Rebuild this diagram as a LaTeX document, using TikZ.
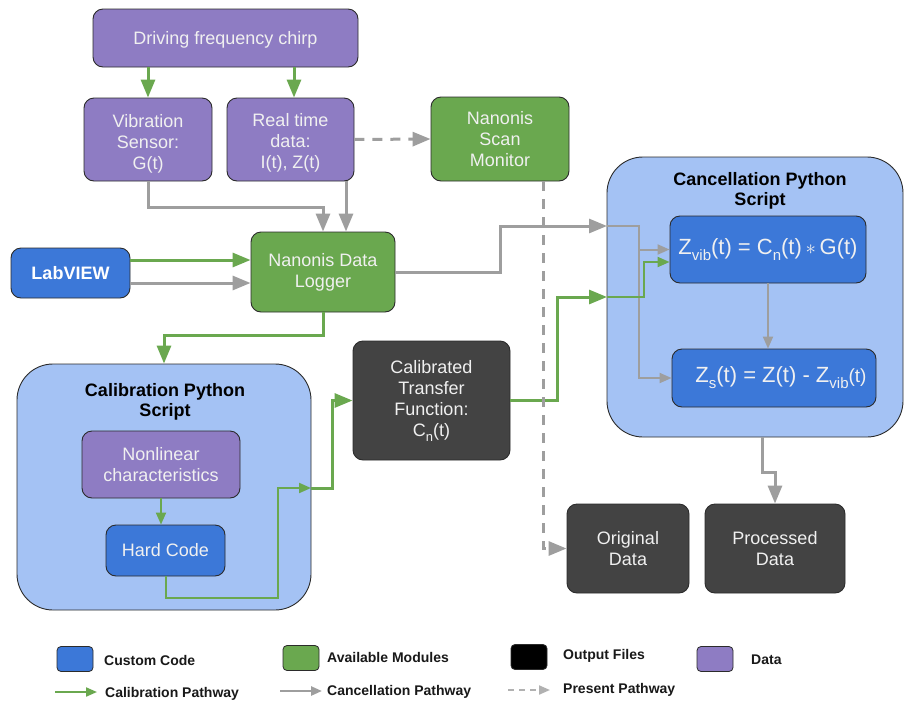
\documentclass[tikz,border=0pt]{standalone}
\usepackage{fontspec}
\setmainfont{Liberation Sans}
\usetikzlibrary{arrows.meta}
\definecolor{dpurple}{HTML}{8E7CC3}
\definecolor{dgreen}{HTML}{6AA84F}
\definecolor{dblue}{HTML}{3C78D8}
\definecolor{lblue}{HTML}{A4C2F4}
\definecolor{dgray}{HTML}{434343}
\definecolor{agray}{HTML}{9E9E9E}
\definecolor{bordc}{HTML}{2B2B2B}
\definecolor{txtc}{HTML}{F0F0F0}
\newcommand{\lsub}[3]{\raisebox{#1}{\fontsize{#2}{#2}\selectfont #3}}
\newcommand{\lowertxt}[2]{\raisebox{-#1}[\height][\depth]{\begin{tabular}{@{}c@{}}#2\end{tabular}}}
\tikzset{
  box/.style={draw=bordc, line width=0.9pt, rounded corners=10pt, align=center,
    text=txtc, font=\fontsize{18}{21}\selectfont, inner sep=0pt},
  datab/.style={box, fill=dpurple},
  modb/.style={box, fill=dgreen},
  codeb/.style={box, fill=dblue},
  outb/.style={box, fill=dgray},
  cont/.style={draw=bordc, fill=lblue, line width=0.9pt, rounded corners=36pt, inner sep=0pt},
  ttl/.style={font=\bfseries\fontsize{18}{20}\selectfont, align=center, text=black, inner sep=0pt},
  tip/.style={-{Triangle[length=18pt,width=14pt]}},
  smalltip/.style={-{Triangle[length=12pt,width=10pt]}},
  garr/.style={draw=dgreen, line width=3pt, tip},
  gyarr/.style={draw=agray, line width=3pt, tip},
  dasharr/.style={draw=agray, line width=3pt, dash pattern=on 10pt off 8pt, tip},
  gin/.style={draw=dgreen, line width=2pt},
  ginarr/.style={gin, smalltip},
  gyin/.style={draw=agray, line width=2pt},
  gyinarr/.style={gyin, smalltip},
  legsq/.style={draw=bordc, line width=0.8pt, rounded corners=4pt, minimum width=36pt, minimum height=25pt, inner sep=0pt},
  legtxt/.style={anchor=west, font=\bfseries\fontsize{14}{16}\selectfont, text=black!90, inner sep=0pt},
  legtip/.style={-{Triangle[length=11pt,width=9pt]}}
}
\begin{document}
\begin{tikzpicture}[x=1pt,y=-1pt]
\fill[white] (0,0) rectangle (906,702);
\useasboundingbox (0,0) rectangle (906,702);

% containers
\node[cont, minimum width=294pt, minimum height=246pt] (calib) at (164,487) {};
\node[cont, minimum width=296pt, minimum height=280pt] (cancel) at (755,297) {};
\node[ttl] (calibT) at (165,402) {Calibration Python\\Script};
\node[ttl] (cancelT) at (760,191) {Cancellation Python\\Script};

% boxes
\node[datab, minimum width=265pt, minimum height=58pt] (chirp) at (225.5,38) {\lowertxt{2pt}{Driving frequency chirp}};
\node[datab, minimum width=128pt, minimum height=83pt] (vib) at (148,139.5) {\lowertxt{5pt}{Vibration\\Sensor:\\G(t)}};
\node[datab, minimum width=127pt, minimum height=83pt] (rt) at (290.5,139.5) {\lowertxt{4pt}{Real time\\data:\\I(t), Z(t)}};
\node[modb, minimum width=138pt, minimum height=84pt] (scan) at (500,139) {Nanonis\\Scan\\Monitor};
\node[codeb, minimum width=119pt, minimum height=50pt, font=\bfseries\fontsize{18}{21}\selectfont, text=white] (labview) at (70.5,273) {LabVIEW};
\node[modb, minimum width=144pt, minimum height=80pt] (logger) at (323,272) {Nanonis Data\\Logger};
\node[datab, minimum width=158pt, minimum height=67pt] (nonlin) at (161,464.5) {Nonlinear\\characteristics};
\node[codeb, minimum width=119pt, minimum height=51pt] (hard) at (165.5,550.5) {Hard Code};
\node[outb, minimum width=157pt, minimum height=119pt] (transfer) at (431.5,400.5) {Calibrated\\Transfer\\Function:\\C\lsub{-5pt}{13}{n}(t)};
\node[codeb, minimum width=196pt, minimum height=67pt, font=\fontsize{22}{26}\selectfont] (zvib) at (768,249.5) {Z\lsub{-6pt}{15}{vib}(t) = C\lsub{-6pt}{15}{n}(t)\,$\ast$\,G(t)};
\node[codeb, minimum width=204pt, minimum height=58pt, font=\fontsize{22}{26}\selectfont] (zs) at (774,378) {\hspace*{14pt}Z\lsub{-6pt}{15}{s}(t) = Z(t) - Z\lsub{-6pt}{15}{vib}{\fontsize{19}{22}\selectfont(t)}};
\node[outb, minimum width=122pt, minimum height=89pt] (orig) at (628,548.5) {Original\\Data};
\node[outb, minimum width=140pt, minimum height=89pt] (proc) at (775,548.5) {Processed\\Data};

% coordinates at container edges
\coordinate (cin1) at (607,226);
\coordinate (cin2) at (607,297);
\coordinate (cout) at (311,488);

% connectors
\draw[garr] (vib.north |- chirp.south) -- (vib.north);
\draw[garr] ([xshift=3.5pt]rt.north |- chirp.south) -- ([xshift=3.5pt]rt.north);
\draw[dasharr] (rt.east) -- (scan.west);
\draw[gyarr] (vib.south) -- ++(0,26) -| (logger.north);
\draw[gyarr] ([xshift=55.5pt]rt.south) -- ([xshift=55.5pt]rt.south |- logger.north);
\draw[garr] ([yshift=13pt]labview.east) -- ([yshift=13pt]labview.east -| logger.west);
\draw[gyarr] ([yshift=-10pt]labview.east) -- ([yshift=-10pt]labview.east -| logger.west);

% into cancellation
\draw[gyinarr] (cin1) -- ++(32,0) |- (zs.west);
\draw[gyinarr] (639,249.5) -- (zvib.west);
\draw[ginarr] (cin2) -- ++(37,0) |- ([yshift=-12.5pt]zvib.west);
\draw[gyarr] (logger.east) -- ++(105,0) |- (cin1);
\draw[garr] (transfer.east) -- ++(47,0) |- (cin2);
\draw[gyinarr] (zvib.south) -- (zvib.south |- zs.north);
\draw[gyarr] ([xshift=7pt]cancel.south) -- ++(0,35) -| (proc.north);
\draw[dasharr] ([xshift=43pt]scan.south) |- (orig.west);

% calibration
\draw[garr] (logger.south) -- ++(0,23) -| (calib.north);
\draw[ginarr] (nonlin.south) -- (nonlin.south |- hard.north);
\draw[ginarr] (hard.south) -- ++(0,22) -| (278,488) -- (cout);
\draw[garr] (cout) -- ++(21,0) |- (transfer.west);

% legend
\node[legsq, fill=dblue] (l1) at (75,659) {};
\node[legtxt] (l1t) at (104,660) {Custom Code};
\node[legsq, fill=dgreen] (l2) at (301,658) {};
\node[legtxt] (l2t) at (327,657) {Available Modules};
\node[legsq, fill=black] (l3) at (529,657) {};
\node[legtxt] (l3t) at (563,656) {Output Files};
\node[legsq, fill=dpurple] (l4) at (715,659) {};
\node[legtxt] (l4t) at (751,660) {Data};

\coordinate (a1s) at (55,692); \coordinate (a1e) at (97,692);
\coordinate (a2s) at (280,691); \coordinate (a2e) at (322,691);
\coordinate (a3s) at (508,690); \coordinate (a3e) at (550,690);
\draw[draw=dgreen, line width=2pt, legtip] (a1s) -- (a1e);
\draw[draw=agray, line width=2.5pt, legtip] (a2s) -- (a2e);
\draw[draw=agray!80, line width=2pt, dash pattern=on 6pt off 5pt, legtip] (a3s) -- (a3e);
\node[legtxt] (a1t) at (105,694) {Calibration Pathway};
\node[legtxt] (a2t) at (327,692) {Cancellation Pathway};
\node[legtxt] (a3t) at (563,690) {Present Pathway};
\end{tikzpicture}
\end{document}
